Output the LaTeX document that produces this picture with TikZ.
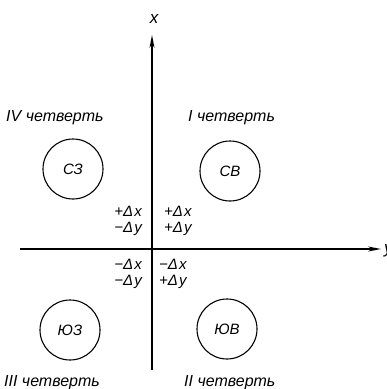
\documentclass[tikz,border=0pt]{standalone}
\usepackage{fontspec}
\setmainfont{Liberation Sans}
\usetikzlibrary{arrows.meta}
\begin{document}
\begin{tikzpicture}[x=1pt,y=-1pt,
  axis/.style={line width=1.4pt,-{Stealth[length=13pt,width=5pt]}},
  region/.style={circle,draw,line width=1.1pt,minimum size=60pt,inner sep=0pt,font=\fontsize{15}{17}\selectfont\itshape},
  quarter/.style={font=\fontsize{16}{18}\selectfont\itshape,inner sep=0pt},
  delta/.style={font=\fontsize{15}{16}\selectfont\itshape,inner sep=0pt,align=left},
  deltar/.style={font=\fontsize{15}{16}\selectfont\itshape,inner sep=0pt,align=right},
  lbl/.style={font=\fontsize{17}{19}\selectfont\itshape,inner sep=0pt}]
\useasboundingbox (0,0) rectangle (387,389);
\coordinate (xs) at (152,370);
\coordinate (xe) at (152,35);
\coordinate (ys) at (20,249);
\coordinate (ye) at (381,249);
\draw[axis] (xs) -- (xe);
\draw[axis] (ys) -- (ye);
\node[lbl] (xl) at (154,19) {x};
\node[lbl,anchor=west] (yl) at (384,251) {y};
\node[region] (nw) at (73,169) {СЗ};
\node[region] (ne) at (230,171) {СВ};
\node[region] (sw) at (70,330) {ЮЗ};
\node[region] (se) at (227,329) {ЮВ};
\node[quarter,anchor=west] (q4) at (6,118) {IV четверть};
\node[quarter,anchor=west] (q1) at (188,118) {I четверть};
\node[quarter,anchor=west] (q3) at (4,383) {III четверть};
\node[quarter,anchor=west] (q2) at (184,383) {II четверть};
\node[deltar,anchor=east] (d1) at (142,221) {+Δ\kern1pt x\\−Δ\kern1pt y};
\node[delta,anchor=west] (d2) at (164,221) {+Δ\kern1pt x\\+Δ\kern1pt y};
\node[deltar,anchor=east] (d3) at (142,274) {−Δ\kern1pt x\\−Δ\kern1pt y};
\node[delta,anchor=west] (d4) at (159,274) {−Δ\kern1pt x\\+Δ\kern1pt y};
\end{tikzpicture}
\end{document}
